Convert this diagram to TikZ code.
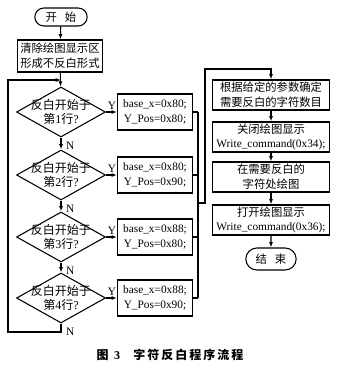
\documentclass[tikz,border=0pt]{standalone}
\usepackage{fontspec}
\setmainfont{Liberation Serif}
\newfontfamily\cjk{Noto Sans CJK SC}
\usetikzlibrary{arrows.meta,positioning,shapes.geometric,shapes.misc}
\tikzset{
 flow/.style={line width=0.8pt},
 flowarrow/.style={flow,-{Latex[length=4pt,width=3pt]}},
 termbox/.style={rounded rectangle,draw,line width=0.8pt,inner sep=1pt,
  font=\cjk\fontsize{8.5}{10}\selectfont},
 procbox/.style={draw,line width=0.8pt,align=center,inner sep=1pt,
  font=\fontsize{8.5}{11}\selectfont},
 setbox/.style={procbox,minimum width=56.25pt,minimum height=27pt},
 rightbox/.style={procbox,minimum width=87.75pt,minimum height=22.5pt},
 decbox/.style={diamond,draw,line width=0.8pt,inner sep=0pt,
  minimum width=66.75pt,minimum height=37.5pt},
 dectext/.style={align=center,inner sep=0pt,font=\fontsize{9}{11}\selectfont},
 lbl/.style={inner sep=0pt,font=\fontsize{8.5}{10}\selectfont}
}
\begin{document}
\begin{tikzpicture}[x=0.75pt,y=-0.75pt]
\useasboundingbox (0,0) rectangle (340,375);
% left column
\node[termbox,minimum width=41.25pt,minimum height=13.5pt] (start) at (61,17) {开\hspace{6pt}始};
\node[procbox,minimum width=63.75pt,minimum height=24pt] (clear) at (60,56)
 {{\cjk 清除绘图显示区}\\{\cjk 形成不反白形式}};
\coordinate (j1) at (61,80);
\foreach \i/\y in {1/112,2/175,3/237,4/298}{
 \node[decbox] (dec\i) at (61,\y) {};
 \node[dectext] (dec\i t) at (dec\i) {{\cjk 反白开始于}\\{\cjk 第}\i{\cjk 行}?};
}
% settings
\node[setbox] (set1) at (155,112) {base\_x=0x80;\\Y\_Pos=0x80;};
\node[setbox] (set2) at (155,175) {base\_x=0x80;\\Y\_Pos=0x90;};
\node[setbox] (set3) at (155,237) {base\_x=0x88;\\Y\_Pos=0x80;};
\node[setbox] (set4) at (155,298) {base\_x=0x88;\\Y\_Pos=0x90;};
% right column
\node[rightbox] (param) at (271,95) {{\cjk 根据给定的参数确定}\\{\cjk 需要反白的字符数目}};
\node[rightbox] (dispoff) at (271,137) {{\cjk 关闭绘图显示}\\Write\_command(0x34);};
\node[rightbox] (paint) at (271,177) {{\cjk 在需要反白的}\\{\cjk 字符处绘图}};
\node[rightbox] (dispon) at (271,220) {{\cjk 打开绘图显示}\\Write\_command(0x36);};
\node[termbox,minimum width=39.75pt,minimum height=16.5pt] (stop) at (271,259) {结\hspace{6pt}束};
% connectors
\draw[flowarrow] (start) -- (clear);
\draw[flowarrow] (clear) -- (dec1);
\foreach \i/\j in {1/2,2/3,3/4}{
 \draw[flowarrow] (dec\i.south) -- (dec\j.north);
}
\foreach \i in {1,...,4}{
 \draw[flowarrow] (dec\i.east) -- (set\i.west);
 \node[lbl] (yes\i) at ([xshift=4.5pt,yshift=4.5pt]dec\i.east) {Y};
 \node[lbl] (no\i) at ([xshift=7pt,yshift=-6pt]dec\i.south) {N};
}
% merge on the right
\coordinate (mx) at (198,0);
\coordinate (mj) at (198,203);
\coordinate (rj) at (205,203);
\coordinate (rtop) at (271,69);
\foreach \i in {1,...,4}{
 \draw[flow] (set\i.east) -- (set\i.east -| mx);
}
\draw[flow] (set1.east -| mx) -- (set4.east -| mx);
\draw[flowarrow] (mj) -- (rj) |- (rtop) -- (param.north);
\draw[flowarrow] (param) -- (dispoff);
\draw[flowarrow] (dispoff) -- (paint);
\draw[flowarrow] (paint) -- (dispon);
\draw[flowarrow] (dispon) -- (stop);
% loop back
\coordinate (lb) at (8,332);
\draw[flowarrow] (dec4.south) -- (dec4.south |- lb) -- (lb) |- (j1);
% caption
\node[inner sep=0pt,font=\fontsize{9}{11}\selectfont\bfseries] (caption) at (170,355)
 {{\cjk 图}\hspace{4pt}3\hspace{10pt}{\cjk 字\,符\,反\,白\,程\,序\,流\,程}};
\end{tikzpicture}
\end{document}
